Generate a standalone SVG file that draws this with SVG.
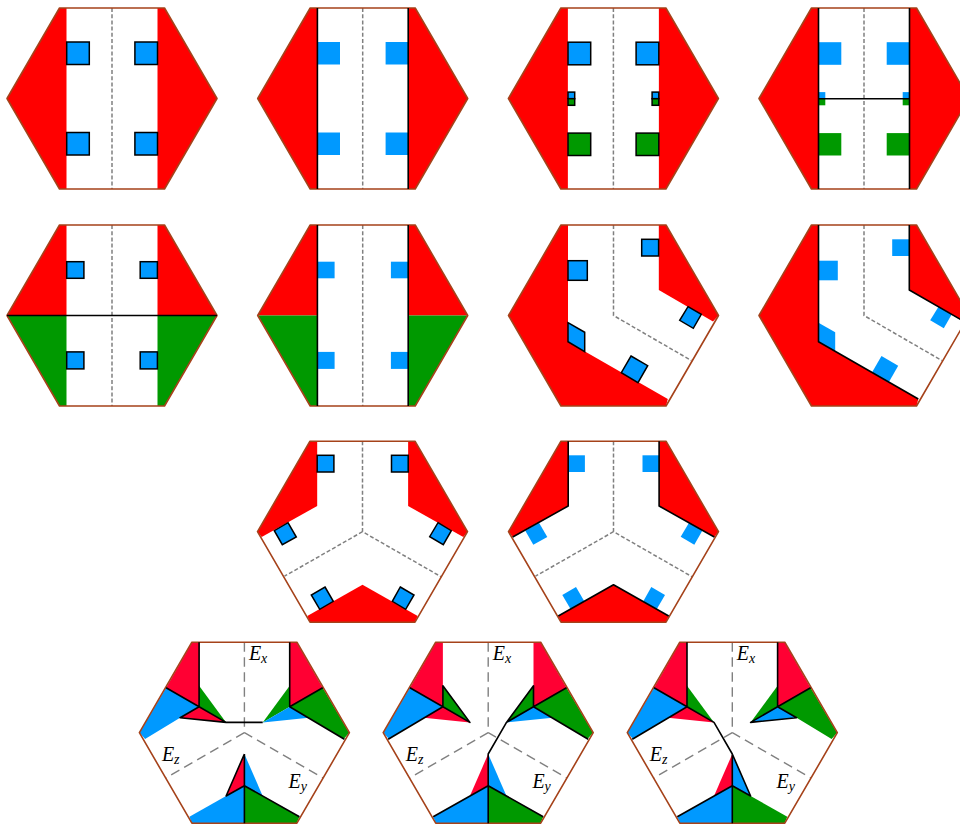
<svg xmlns="http://www.w3.org/2000/svg" xmlns:xlink="http://www.w3.org/1999/xlink" width="960" height="825" viewBox="0 0 960 825">
<style>
.r{fill:#ff0000}.g{fill:#009900}.b{fill:#0099ff}.c{fill:#ff0033}
.s{stroke:#000;stroke-width:1.5}
.k{fill:none;stroke:#000;stroke-width:1.6;stroke-linejoin:round}
.h{fill:none;stroke:#a5421a;stroke-width:1.6;stroke-linejoin:round}
.d{fill:none;stroke:#808080;stroke-width:1.5;stroke-dasharray:4 2.2}
.e{fill:none;stroke:#808080;stroke-width:1.4;stroke-dasharray:9.5 5.5}
text{font-family:"Liberation Serif","Times New Roman",serif;font-style:italic;font-size:20px;fill:#000}
.u{font-size:14px}
</style>
<defs>
<polygon id="hex" class="h" points="-105,0 -52.5,-90.5 52.5,-90.5 105,0 52.5,90.5 -52.5,90.5"/>
<g id="side"><polygon class="r" points="-105,0 -52.5,-90.5 -45.5,-90.5 -45.5,90.5 -52.5,90.5"/><polygon class="r" points="105,0 52.5,-90.5 45.5,-90.5 45.5,90.5 52.5,90.5"/></g>
<g id="half"><polygon class="r" points="-105,0 -52.5,-90.5 -45.5,-90.5 -45.5,0"/><polygon class="r" points="105,0 52.5,-90.5 45.5,-90.5 45.5,0"/><polygon class="g" points="-105,0 -52.5,90.5 -45.5,90.5 -45.5,0"/><polygon class="g" points="105,0 52.5,90.5 45.5,90.5 45.5,0"/></g>
<g id="bent"><polygon class="r" points="-52.5,-90.5 -45.5,-90.5 -45.5,26.2 54.3,83.5 52.5,90.5 -52.5,90.5 -105,0"/><polygon class="r" points="45.3,-90.5 45.3,-25.5 99.5,6 105,0 52.5,-90.5"/></g>
<g id="tri"><polygon class="r" points="-52.5,-90.5 -45.3,-90.5 -45.3,-25.7 -100.8,5.3 -105,0"/><polygon class="r" points="52.5,-90.5 45.6,-90.5 45.6,-25.7 100.8,5.3 105,0"/><polygon class="r" points="-55.2,84.3 0,53 55.2,84.3 52.5,90.5 -52.5,90.5"/></g>
<path id="d1" class="d" d="M0,-90.5V90.5"/>
<path id="d2" class="d" d="M0,-90.5V0L77.8,45"/>
<path id="d3" class="d" d="M0,-90.5V0L78.5,45M0,0L-78,44.5"/>
<path id="d4" class="e" d="M0,-90.5V0L78.5,45.2M0,0L-78.5,45.2"/>
<g id="b7">
<rect x="-45.5" y="-54.8" width="19.3" height="19.6"/><rect x="28.2" y="-76.2" width="16.9" height="16.7"/>
<polygon points="74.5,-8.8 87.8,-1.2 79.8,12.8 66.2,4.8"/><polygon points="17.5,40.5 34.2,50.2 24.5,67.2 7.8,57.2"/><polygon points="-45.5,7.2 -28.8,16.8 -28.8,36.2 -45.5,26.2"/>
</g>
<g id="b9">
<rect x="-45.3" y="-76.4" width="16.7" height="16.7"/><rect x="29" y="-76.4" width="16.7" height="16.7"/>
<polygon points="-74.5,-9 -66.2,5.3 -80.2,13 -88.2,-1"/><polygon points="75.5,-9 88.8,-1 80.8,13 67.2,5"/>
<polygon points="-37.5,55.3 -29.2,69.6 -42.8,77.6 -51.2,63.3"/><polygon points="37.8,55.3 51.5,63.3 43.2,77.6 29.8,69.6"/>
</g>
<g id="fills">
<polygon class="c" points="-52.3,-90.5 -45.3,-90.5 -45.3,-26 -78.3,-45"/>
<polygon class="g" points="-45.3,-47 -18.3,-10.3 -45.3,-26"/>
<polygon class="c" points="-45.3,-26 -18.3,-10.3 -64.3,-15"/>
<polygon class="b" points="-78.3,-45 -45.3,-26 -64.3,-15 -99.3,6.3 -104.8,0"/>
<polygon class="c" points="52.3,-90.5 45.3,-90.5 45.3,-26 78.3,-45"/>
<polygon class="g" points="45.3,-47 18.3,-10.3 45.3,-26"/>
<polygon class="b" points="45.3,-26 18.3,-10.3 64.3,-15"/>
<polygon class="g" points="78.3,-45 45.3,-26 64.3,-15 99.3,6.3 104.8,0"/>
<polygon class="c" points="0,21.3 0,53 -18.3,63.3"/>
<polygon class="b" points="0,21.3 0,53 18.3,63.3"/>
<polygon class="b" points="0,53 -18.3,63.3 -55,84 -52.3,90.5 0,90.5"/>
<polygon class="g" points="0,53 18.3,63.3 55,84 52.3,90.5 0,90.5"/>
</g>
<g id="labels">
<text x="4.5" y="-72.4">E<tspan class="u" dy="3">x</tspan></text>
<text x="-82.5" y="28.3">E<tspan class="u" dy="3">z</tspan></text>
<text x="44.2" y="55">E<tspan class="u" dy="3">y</tspan></text>
</g>
</defs>
<rect width="960" height="825" fill="#fff"/>

<g id="panel-1" transform="translate(112,98.5)">
<use href="#side"/><use href="#d1"/>
<g class="b s"><rect x="-45.3" y="-56.5" width="22.6" height="22.5"/><rect x="22.9" y="-56.5" width="22.6" height="22.5"/><rect x="-45.3" y="34" width="22.6" height="22.5"/><rect x="22.9" y="34" width="22.6" height="22.5"/></g>
<use href="#hex"/>
</g>
<g id="panel-2" transform="translate(362.7,98.5)">
<use href="#side"/><use href="#d1"/>
<g class="b"><rect x="-45.3" y="-56.5" width="22.6" height="22.5"/><rect x="22.9" y="-56.5" width="22.6" height="22.5"/><rect x="-45.3" y="34" width="22.6" height="22.5"/><rect x="22.9" y="34" width="22.6" height="22.5"/></g>
<use href="#hex"/><path class="k" d="M-45.3,-90.5V90.5M45.5,-90.5V90.5"/>
</g>
<g id="panel-3" transform="translate(613.4,98.5)">
<use href="#side"/><use href="#d1"/>
<g class="s"><rect class="b" x="-45.4" y="-56.3" width="22.7" height="22.6"/><rect class="b" x="22.7" y="-56.3" width="22.7" height="22.6"/><rect class="g" x="-45.4" y="34.6" width="22.7" height="22.4"/><rect class="g" x="22.7" y="34.6" width="22.7" height="22.4"/>
<rect class="b" x="-45.4" y="-6.4" width="6.7" height="6.6"/><rect class="b" x="38.7" y="-6.4" width="6.7" height="6.6"/><rect class="g" x="-45.4" y="0.2" width="6.7" height="6.6"/><rect class="g" x="38.7" y="0.2" width="6.7" height="6.6"/></g>
<use href="#hex"/>
</g>
<g id="panel-4" transform="translate(864,98.5)">
<use href="#side"/><use href="#d1"/>
<rect class="b" x="-45.4" y="-56.3" width="22.7" height="22.6"/><rect class="b" x="22.7" y="-56.3" width="22.7" height="22.6"/><rect class="g" x="-45.4" y="34.6" width="22.7" height="22.4"/><rect class="g" x="22.7" y="34.6" width="22.7" height="22.4"/>
<rect class="b" x="-45.4" y="-6.4" width="6.7" height="6.6"/><rect class="b" x="38.7" y="-6.4" width="6.7" height="6.6"/><rect class="g" x="-45.4" y="0.2" width="6.7" height="6.6"/><rect class="g" x="38.7" y="0.2" width="6.7" height="6.6"/>
<use href="#hex"/><path class="k" d="M-45.5,-90.5V90.5M45.5,-90.5V90.5M-45.5,0.2H45.5"/>
</g>

<g id="panel-5" transform="translate(112,315.5)">
<use href="#half"/><use href="#d1"/>
<g class="b s"><rect x="-45.3" y="-53.8" width="17.2" height="16.6"/><rect x="28.2" y="-53.8" width="17.2" height="16.6"/><rect x="-45.3" y="36.4" width="17.2" height="17"/><rect x="28.2" y="36.4" width="17.2" height="17"/></g>
<use href="#hex"/><path class="k" d="M-105,0H105"/>
</g>
<g id="panel-6" transform="translate(362.7,315.5)">
<use href="#half"/><use href="#d1"/>
<g class="b"><rect x="-45.3" y="-53.8" width="17.2" height="16.6"/><rect x="28.2" y="-53.8" width="17.2" height="16.6"/><rect x="-45.3" y="36.4" width="17.2" height="17"/><rect x="28.2" y="36.4" width="17.2" height="17"/></g>
<use href="#hex"/><path class="k" d="M-45.3,-90.5V90.5M45.5,-90.5V90.5"/>
</g>
<g id="panel-7" transform="translate(613.5,315.5)">
<use href="#bent"/><use href="#d2"/>
<use href="#b7" class="b s"/>
<use href="#hex"/>
</g>
<g id="panel-8" transform="translate(864,315.5)">
<use href="#bent"/><use href="#d2"/>
<use href="#b7" class="b"/>
<use href="#hex"/><path class="k" d="M-45.5,-90.5V26.2L54.3,83.5M45.3,-90.5V-25.5L100,6"/>
</g>

<g id="panel-9" transform="translate(362.5,531.7)">
<use href="#tri"/><use href="#d3"/>
<use href="#b9" class="b s"/>
<use href="#hex"/>
</g>
<g id="panel-10" transform="translate(613.5,531.7)">
<use href="#tri"/><use href="#d3"/>
<use href="#b9" class="b"/>
<use href="#hex"/><path class="k" d="M-45.3,-90.5V-25.7L-100.8,5.3M45.6,-90.5V-25.7L100.8,5.3M-55.2,84.3L0,53L55.2,84.3"/>
</g>

<g id="panel-a" transform="translate(244.4,732.7)">
<use href="#fills"/><use href="#d4"/><use href="#hex"/>
<path class="k" d="M-45.3,-90.5V-26L-78.3,-45M-45.3,-26L-18.3,-10.3L-64.3,-15ZM-18.3,-10.3H18.3M45.3,-90.5V-26L78.3,-45M45.3,-26L100,6.5M0,21.3V90.5M0,21.3L-18.3,63.3L0,53L55,84"/>
<use href="#labels"/>
</g>
<g id="panel-b" transform="translate(488.2,732.7)">
<use href="#fills"/><use href="#d4"/><use href="#hex"/>
<path class="k" d="M-45.3,-47L-18.3,-10.3L-45.3,-26ZM-78.3,-45L-45.3,-26L-100,6.5M45.3,-47L18.3,-10.3L45.3,-26ZM78.3,-45L45.3,-26L100,6.5M18.3,-10.3L0,21.3V90.5M-55,84L0,53L55,84"/>
<use href="#labels"/>
</g>
<g id="panel-c" transform="translate(732.3,732.7)">
<use href="#fills"/><use href="#d4"/><use href="#hex"/>
<path class="k" d="M-45.3,-90.5V-26L-78.3,-45M-45.3,-26L-100,6.5M-45.3,-26L-18.3,-10.3L0,21.3V90.5M0,21.3L18.3,63.3L0,53L-55,84M45.3,-90.5V-26L78.3,-45M45.3,-26L64.3,-15L18.3,-10.3Z"/>
<use href="#labels"/>
</g>
</svg>
